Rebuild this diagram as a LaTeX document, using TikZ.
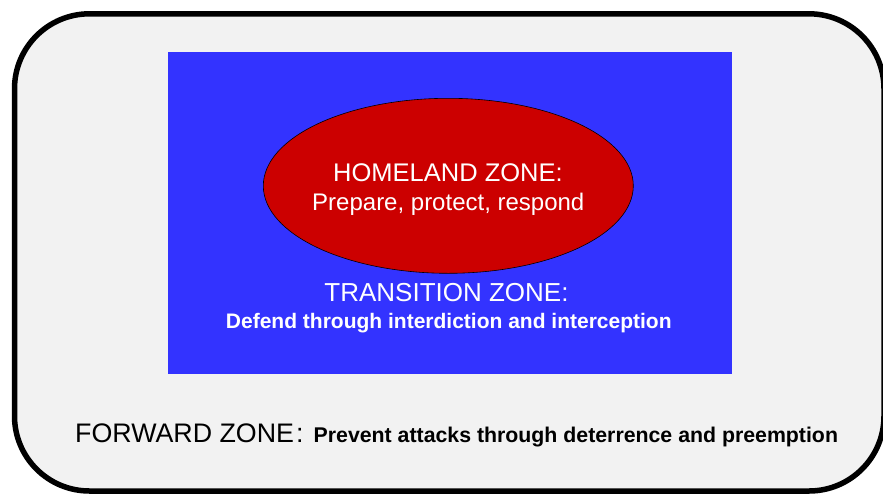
\documentclass[tikz,border=0pt]{standalone}
\usepackage{fontspec}
\setmainfont{Liberation Sans}
\usetikzlibrary{shapes.geometric}
\definecolor{panelgray}{HTML}{F2F2F2}
\definecolor{zoneblue}{HTML}{3333FF}
\definecolor{zonered}{HTML}{CC0000}

\begin{document}
\begin{tikzpicture}[x=1pt, y=-1pt, frame/.style = {draw=black, line width=5.5pt, fill=panelgray, rounded corners=75pt}, zonename/.style = {anchor=base, inner sep=0pt, font=\fontsize{26}{30}\selectfont}, motto/.style = {anchor=base, inner sep=0pt, font=\bfseries\fontsize{21}{25}\selectfont}]
	\useasboundingbox (0,0) rectangle (883,493);
	\draw[frame] (14.5,13.8) rectangle (884,491);
	\node[fill=zoneblue, minimum width=564pt, minimum height=322pt, inner sep=0pt] (transition) at (450,213) {};
	\node[ellipse, draw=black, line width=0.6pt, fill=zonered, minimum width=370pt, minimum height=175pt, inner sep=0pt] (homeland) at (448.3,185.8) {};
	% homeland zone
	\node[zonename, white, font=\fontsize{25.5}{30}\selectfont] (homelandname) at (448,181.7) {HOMELAND ZONE:};
	\node[zonename, white, font=\fontsize{24}{28}\selectfont] (homelandmotto) at (448.3,210.7) {Prepare, protect, respond};
	% transition zone
	\node[zonename, white] (transitionname) at (446.5,301.7) {TRANSITION ZONE:};
	\node[motto, white] (transitionmotto) at (448.8,328.3) {Defend through interdiction and interception};
	% forward zone
	\node[zonename, anchor=base west, font=\fontsize{26.8}{30}\selectfont] (forwardname) at (75,442.7) {FORWARD ZONE\kern2pt:};
	\node[motto, anchor=base west, font=\bfseries\fontsize{21.3}{25}\selectfont] (forwardmotto) at (313.5,442.7) {Prevent attacks through deterrence and preemption};
\end{tikzpicture}
\end{document}
